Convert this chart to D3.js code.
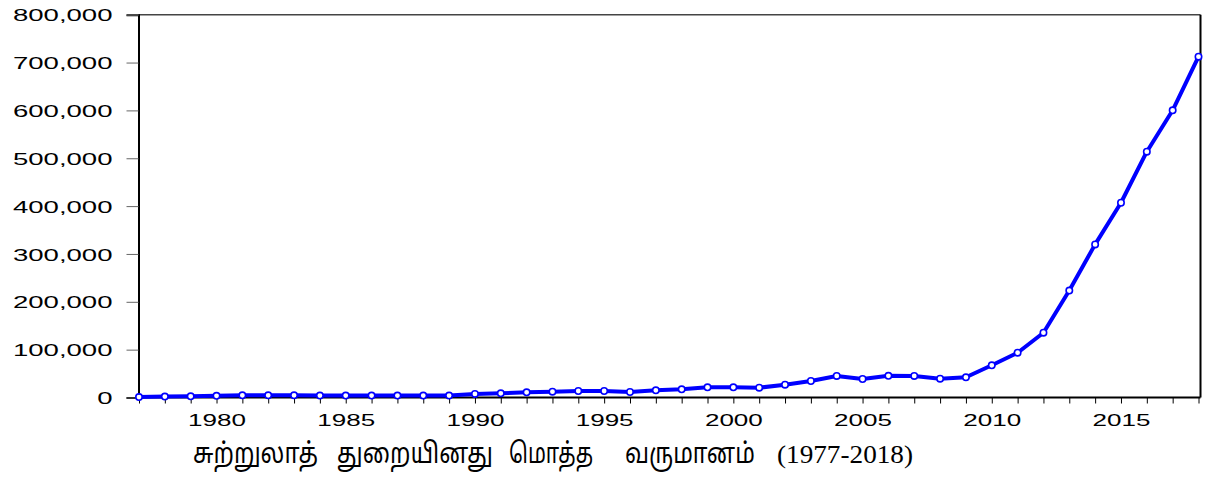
<!DOCTYPE html>
<html><head><meta charset="utf-8">
<script src="https://cdn.jsdelivr.net/npm/d3@7"></script>
<style>body{margin:0;background:#fff}svg{display:block}</style>
</head><body>
<svg id="c" width="1206" height="477"></svg>
<script>
const years = [1977,1978,1979,1980,1981,1982,1983,1984,1985,1986,1987,1988,1989,1990,1991,1992,1993,1994,1995,1996,1997,1998,1999,2000,2001,2002,2003,2004,2005,2006,2007,2008,2009,2010,2011,2012,2013,2014,2015,2016,2017,2018];
const revenue = [800,2000,2500,3500,4500,4500,4500,4000,4000,4000,4000,4000,4000,7500,8800,10900,12100,13600,13600,11500,15000,17100,21300,21300,20500,26800,34500,45000,38700,45300,45000,39300,42200,67300,93600,135400,223500,320000,407000,513700,600200,712200];
const yTicks = [0,100000,200000,300000,400000,500000,600000,700000,800000];
const xTickLabels = [1980,1985,1990,1995,2000,2005,2010,2015];
const captionWords = ["சுற்றுலாத்", "துறையினது", "மொத்த", "வருமானம்", "(1977-2018)"];

const svg = d3.select("#c");
const L = 138.5, R = 1200.5, T = 14.7, B = 397.5;
const x = d3.scaleLinear().domain([1977, 2018]).range([139, 1198.5]);
const y = d3.scaleLinear().domain([0, 800000]).range([B, T]);

svg.append("line").attr("x1", L).attr("x2", R).attr("y1", T).attr("y2", T).attr("stroke", "#444").attr("stroke-width", 1.5);
svg.append("line").attr("x1", R).attr("x2", R).attr("y1", T).attr("y2", B).attr("stroke", "#000").attr("stroke-width", 2);

const yAxis = svg.append("g").attr("transform", `translate(${L},0)`)
  .call(d3.axisLeft(y).tickValues(yTicks).tickSize(12).tickPadding(14).tickFormat(d3.format(",")));
yAxis.select(".domain").attr("stroke", "#000").attr("stroke-width", 2);
yAxis.selectAll(".tick line").attr("stroke", "#666").attr("stroke-width", 1);
yAxis.selectAll("text").attr("font-family", "Liberation Sans, Arial, sans-serif").attr("font-size", 17).attr("fill", "#000").attr("dy", "0.36em");

const xAxis = svg.append("g").attr("transform", `translate(0,${B})`)
  .call(d3.axisBottom(x).tickValues(years).tickSize(6).tickSizeOuter(0).tickFormat(d => xTickLabels.includes(d) ? String(d) : ""));
xAxis.select(".domain").attr("stroke", "#000").attr("stroke-width", 2).attr("d", `M${L},0H${R}`);
xAxis.selectAll(".tick line").attr("stroke", "#000").attr("stroke-width", 1);
xAxis.selectAll("text").attr("font-family", "Liberation Sans, Arial, sans-serif").attr("font-size", 17).attr("fill", "#000").attr("dy", 0).attr("y", 28);

yAxis.selectAll("text").each(function(){ const w = this.getComputedTextLength(); if (w>0) d3.select(this).attr("textLength", w*1.62).attr("lengthAdjust","spacingAndGlyphs"); });
xAxis.selectAll("text").each(function(){ const w = this.getComputedTextLength(); if (w>0) d3.select(this).attr("textLength", w*1.53).attr("lengthAdjust","spacingAndGlyphs"); });

const data = years.map((yr, i) => ({yr, v: revenue[i]}));
svg.append("path").datum(data)
  .attr("fill", "none").attr("stroke", "#0000ff").attr("stroke-width", 4).attr("stroke-linejoin", "round")
  .attr("d", d3.line().x(d => x(d.yr)).y(d => y(d.v)));
svg.append("g").selectAll("circle").data(data).join("circle")
  .attr("cx", d => x(d.yr)).attr("cy", d => y(d.v)).attr("r", 3.2)
  .attr("fill", "#fff").attr("stroke", "#0000ff").attr("stroke-width", 1.6);

// caption, word by word to match the wide spacing
const capX = [193, 337, 509, 625, 777];
const capW = [125, 156, 84, 130, 136];
const cap = svg.append("g");
captionWords.forEach((w, i) => {
  const isLatin = i === captionWords.length - 1;
  const t = cap.append("text").attr("x", capX[i]).attr("y", isLatin ? 463 : 463)
    .attr("font-family", isLatin ? "Liberation Serif, Times New Roman, serif" : "Noto Sans Tamil, Lohit Tamil, Latha, sans-serif")
    .attr("font-size", isLatin ? 26 : 28).attr("fill", "#000")
    .text(w);
  const nat = t.node().getComputedTextLength();
  const k = capW[i] / nat;
  if (isLatin) {
    t.attr("textLength", capW[i]).attr("lengthAdjust", "spacingAndGlyphs");
  } else {
    t.attr("x", 0).attr("y", 0)
     .attr("transform", `translate(${capX[i]},463) scale(${k},1)`);
  }
});
</script>
</body></html>
